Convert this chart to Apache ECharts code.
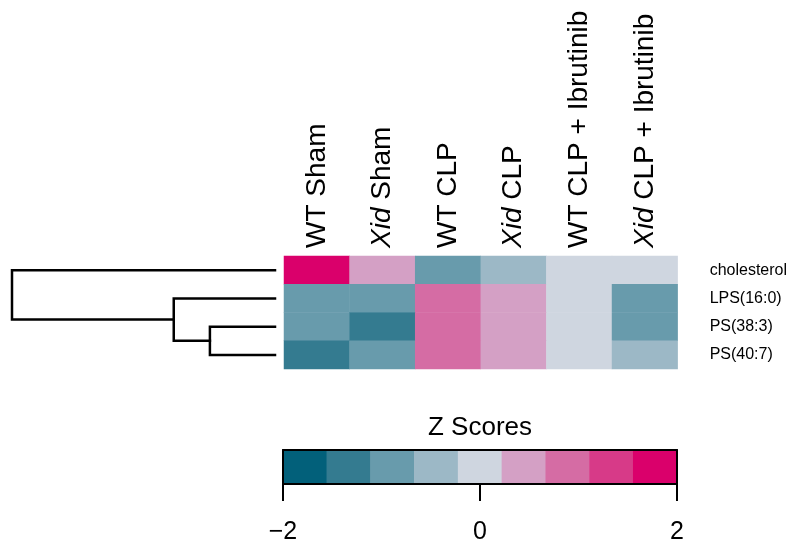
<!DOCTYPE html>
<html>
<head>
<meta charset="utf-8">
<script src="https://cdn.jsdelivr.net/npm/echarts@6/dist/echarts.min.js"></script>
<style>html,body{margin:0;padding:0;background:#fff}#c{width:790px;height:545px}</style>
</head>
<body>
<div id="c"></div>
<script>
// ---- data ----
var columns = ['WT Sham', 'Xid Sham', 'WT CLP', 'Xid CLP', 'WT CLP + Ibrutinib', 'Xid CLP + Ibrutinib'];
var rows = ['cholesterol', 'LPS(16:0)', 'PS(38:3)', 'PS(40:7)'];
var zCholesterol = [1.85, 0.45, -0.85, -0.45, -0.05, -0.05];
var zLPS160 = [-0.85, -0.85, 1.0, 0.5, 0.0, -0.85];
var zPS383 = [-0.85, -1.3, 1.0, 0.5, 0.0, -0.85];
var zPS407 = [-1.3, -0.85, 1.0, 0.5, 0.0, -0.45];
// dendrogram (hclust style merge matrix, negative = leaf row index+1)
var dendroMerge = [[-3, -4], [-2, 1], [-1, 2]];
var dendroHeight = [0.99, 1.54, 4.0];
// colour key
var keyBreaks = [-2, -1.556, -1.111, -0.667, -0.222, 0.222, 0.667, 1.111, 1.556, 2];
var keyColors = ['#02607A', '#347B90', '#689BAC', '#9CB8C6', '#CFD6E0', '#D4A0C5', '#D56CA4', '#D73A88', '#DA006B'];
var keyValues = [-1.78, -1.33, -0.89, -0.44, 0, 0.44, 0.89, 1.33, 1.78];
var keyTicks = [-2, 0, 2];

// ---- build ----
var zRows = [zCholesterol, zLPS160, zPS383, zPS407];
var heatData = [];
zRows.forEach(function (r, ri) { r.forEach(function (v, ci) { heatData.push([ci, ri, v]); }); });

var pieces = [];
for (var k = 0; k < keyColors.length; k++) {
  pieces.push({ gte: keyBreaks[k], lt: keyBreaks[k + 1] + (k === keyColors.length - 1 ? 0.001 : 0), color: keyColors[k] });
}

// dendrogram segments
var nodeY = [], nodeH = [];
function childPos(id) {
  if (id < 0) return { y: -id - 1, h: 0 };
  return { y: nodeY[id - 1], h: nodeH[id - 1] };
}
var dendroSeries = [];
dendroMerge.forEach(function (m, i) {
  var a = childPos(m[0]), b = childPos(m[1]), H = dendroHeight[i];
  nodeY.push((a.y + b.y) / 2); nodeH.push(H);
  dendroSeries.push({
    type: 'line', xAxisIndex: 1, yAxisIndex: 1, symbol: 'none', silent: true,
    lineStyle: { color: '#000', width: 2.5, cap: 'square', join: 'miter' }, animation: false,
    data: [[a.h, a.y], [H, a.y], [H, b.y], [b.h, b.y]]
  });
});

var FONT = '"Liberation Sans", Arial, Helvetica, sans-serif';
var HM = { left: 284, top: 256, width: 394, height: 113 };
var DG = { left: 12, top: 256, width: 263, height: 113 };
var KY = { left: 283, top: 450, width: 394, height: 38 };
var noZero = { onZero: false, show: true, lineStyle: { color: '#000', width: 2 } };

var chart = echarts.init(document.getElementById('c'), null, { renderer: 'canvas' });
var option = {
  animation: false,
  backgroundColor: '#fff',
  grid: [HM, DG, KY],
  xAxis: [
    { type: 'category', gridIndex: 0, data: columns, position: 'top',
      axisLine: { show: false }, axisTick: { show: false }, splitLine: { show: false },
      axisLabel: { rotate: -90, margin: 8, fontSize: 28, fontFamily: FONT, color: '#000', interval: 0,
        formatter: function (s) { return s.indexOf('Xid') === 0 ? '{i|Xid}' + s.slice(3) : s; },
        rich: { i: { fontStyle: 'italic', fontSize: 28, fontFamily: FONT, color: '#000' } } } },
    { type: 'value', gridIndex: 1, min: 0, max: dendroHeight[dendroHeight.length - 1], inverse: true, show: false },
    { type: 'category', gridIndex: 2, data: keyValues, position: 'top', z: 10,
      axisLine: noZero, axisTick: { show: false }, axisLabel: { show: false }, splitLine: { show: false } },
    { type: 'value', gridIndex: 2, min: -2, max: 2, interval: 2, position: 'bottom', z: 10,
      axisLine: noZero,
      axisTick: { show: true, length: 17, lineStyle: { color: '#000', width: 2 } },
      splitLine: { show: false },
      axisLabel: { margin: 36, fontSize: 25, fontFamily: FONT, color: '#000', customValues: keyTicks,
        formatter: function (v) { return v < 0 ? '\u2212' + Math.abs(v) : String(v); } } }
  ],
  yAxis: [
    { type: 'category', gridIndex: 0, data: rows, inverse: true, position: 'right',
      axisLine: { show: false, onZero: false }, axisTick: { show: false }, splitLine: { show: false },
      axisLabel: { margin: 32, fontSize: 16, fontFamily: FONT, color: '#000', align: 'left' } },
    { type: 'value', gridIndex: 1, min: -0.5, max: rows.length - 0.5, inverse: true, show: false },
    { type: 'category', gridIndex: 2, data: ['key'], position: 'left', z: 10,
      axisLine: noZero, axisTick: { show: false }, axisLabel: { show: false } },
    { type: 'category', gridIndex: 2, data: ['key'], position: 'right', z: 10,
      axisLine: noZero, axisTick: { show: false }, axisLabel: { show: false } }
  ],
  visualMap: { type: 'piecewise', show: false, dimension: 2, pieces: pieces, seriesIndex: [0, 1] },
  graphic: [{ type: 'text', x: KY.left + KY.width / 2, y: 415,
    style: { text: 'Z Scores', textAlign: 'center', fontSize: 26, fontFamily: FONT, fill: '#000' } }],
  series: [
    { type: 'heatmap', xAxisIndex: 0, yAxisIndex: 0, data: heatData, silent: true, itemStyle: { borderWidth: 0 } },
    { type: 'heatmap', xAxisIndex: 2, yAxisIndex: 2, silent: true,
      data: keyValues.map(function (v, i) { return [i, 0, v]; }) }
  ].concat(dendroSeries)
};
chart.setOption(option);
</script>
</body>
</html>
